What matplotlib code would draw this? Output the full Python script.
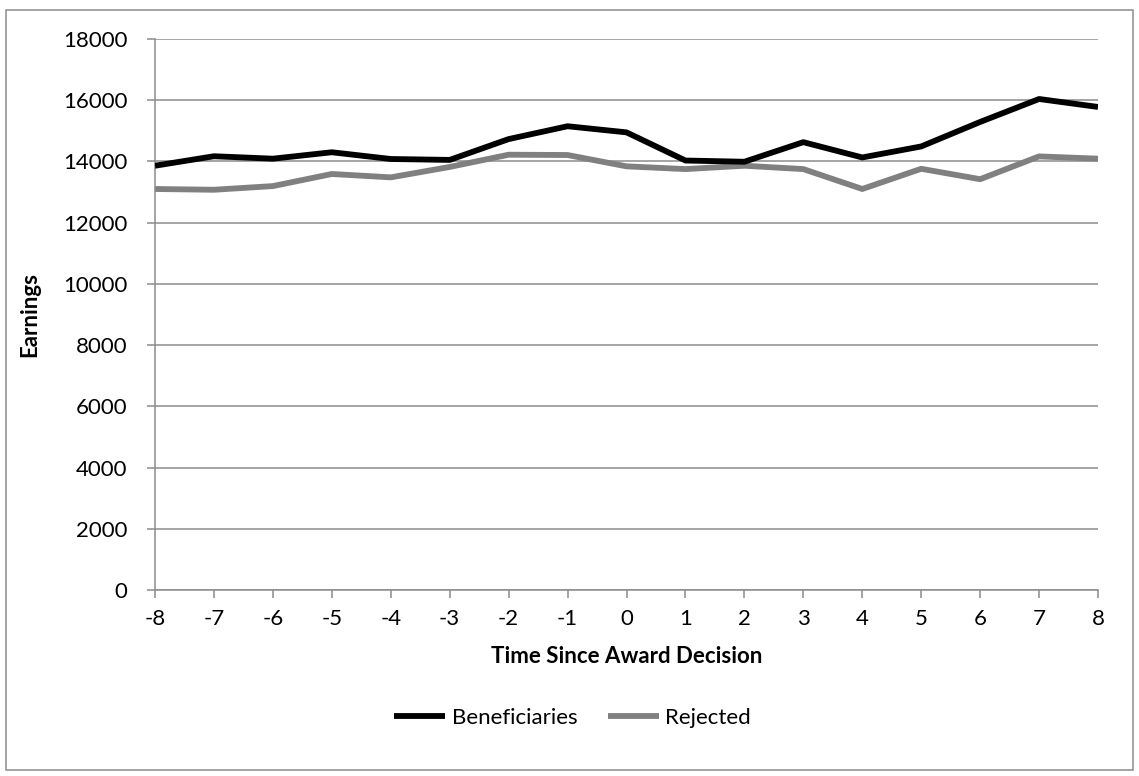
import matplotlib.pyplot as plt
from matplotlib.patches import Rectangle

# values
years = [-8, -7, -6, -5, -4, -3, -2, -1, 0, 1, 2, 3, 4, 5, 6, 7, 8]
beneficiaries = [13860, 14170, 14090, 14300, 14080, 14050, 14730, 15150, 14950,
                 14030, 13990, 14630, 14130, 14490, 15290, 16040, 15780]
rejected = [13100, 13075, 13195, 13590, 13480, 13820, 14220, 14210, 13840,
            13750, 13860, 13750, 13100, 13760, 13420, 14165, 14090]
y_ticks = [0, 2000, 4000, 6000, 8000, 10000, 12000, 14000, 16000, 18000]

plt.rcParams['font.family'] = ['Lato', 'DejaVu Sans']
plt.rcParams['axes.unicode_minus'] = False
grid_col = '#8c8c8c'

fig = plt.figure(figsize=(11.39, 7.76), dpi=100)
ax = fig.add_axes([155/1139, 1 - 590/776, (1098-155)/1139, (590-39)/776])

ax.plot(years, beneficiaries, color='black', lw=4.2, solid_capstyle='butt', label='Beneficiaries', zorder=3)
ax.plot(years, rejected, color='#808080', lw=4.2, solid_capstyle='butt', label='Rejected', zorder=2)

ax.set_xlim(-8, 8)
ax.set_ylim(0, 18000)
ax.set_xticks(years)
ax.set_yticks(y_ticks)
ax.yaxis.grid(True, color=grid_col, lw=1.1)
ax.set_axisbelow(True)

for s in ['top', 'right']:
    ax.spines[s].set_visible(False)
for s in ['left', 'bottom']:
    ax.spines[s].set_color(grid_col)
    ax.spines[s].set_linewidth(1.1)
ax.tick_params(axis='both', colors=grid_col, labelcolor='black', labelsize=16, length=6, width=1.1)
ax.tick_params(axis='y', pad=14)
ax.tick_params(axis='x', pad=8)

ax.set_xlabel('Time Since Award Decision', fontsize=16, fontweight='bold', labelpad=12)
ax.set_ylabel('Earnings', fontsize=16, fontweight='bold', labelpad=16)

ax.legend(loc='center', bbox_to_anchor=(0.443, -0.232), ncol=2, frameon=False,
          fontsize=16, handlelength=2.3, handletextpad=0.3, columnspacing=1.35)

# outer chart border
fig.patches.append(Rectangle((6/1139, 6/776), 1127/1139, 760/776, transform=fig.transFigure,
                             fill=False, edgecolor=grid_col, lw=1.1))

plt.savefig('out.png', dpi=100)
